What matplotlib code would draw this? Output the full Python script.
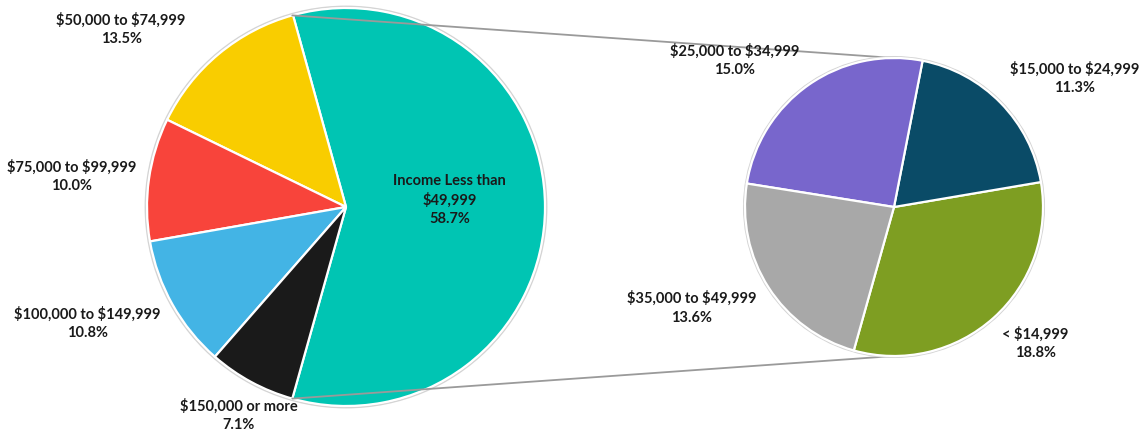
#!/usr/bin/env python3

import numpy as np
import matplotlib
matplotlib.use("Agg")
import matplotlib.pyplot as plt
from matplotlib.patches import ConnectionPatch, Circle

# main pie: teal slice is the group that gets broken out
main_labels = ["Income Less than\n$49,999", "$50,000 to $74,999", "$75,000 to $99,999",
               "$100,000 to $149,999", "$150,000 or more"]
main_values = [58.7, 13.5, 10.0, 10.8, 7.1]
main_colors = ["#00C5B3", "#F9CD00", "#F8443B", "#43B4E5", "#1A1A1A"]

# breakdown of the teal slice
sub_labels = ["< $14,999", "$15,000 to $24,999", "$25,000 to $34,999", "$35,000 to $49,999"]
sub_values = [18.8, 11.3, 15.0, 13.6]
sub_colors = ["#7E9E22", "#0A4B67", "#7866CC", "#A8A8A8"]

# label positions in pie-radius units
main_label_pos = [(0.52, 0.04), (-1.13, 0.90), (-1.38, 0.16), (-1.30, -0.58), (-0.54, -1.04)]
sub_label_pos = [(0.95, -0.91), (1.21, 0.87), (-1.07, 0.99), (-1.36, -0.67)]

W, H = 1139, 431
plt.rcParams["font.family"] = ["Lato", "DejaVu Sans"]
plt.rcParams["text.parse_math"] = False

fig = plt.figure(figsize=(W / 100, H / 100), dpi=100)


def make_axes(cx, cy, r):
    ax = fig.add_axes([0, 0, 1, 1])
    ax.patch.set_alpha(0)
    ax.axis("off")
    return ax


def set_view(ax, cx, cy, r):
    # 1 data unit = pie radius in pixels, centre placed at (cx, cy) from top-left
    ax.set_aspect("auto")
    ax.set_xlim(-cx / r, (W - cx) / r)
    ax.set_ylim(-(H - cy) / r, cy / r)


ax1 = make_axes(346, 208, 199)
ax2 = make_axes(894, 208, 149)

start = -main_values[0] / 100 * 360 / 2

for ax, vals, cols in [(ax1, main_values, main_colors), (ax2, sub_values, sub_colors)]:
    ax.add_patch(Circle((0, 0), 1.008, facecolor="none", edgecolor="#d4d4d4", lw=1.2, zorder=0.5))
    ax.pie(vals, colors=cols, startangle=start, counterclock=True,
           wedgeprops=dict(edgecolor="white", linewidth=1.6))

set_view(ax1, 346, 208, 199)
set_view(ax2, 894, 208, 149)

for lab, v, (x, y) in zip(main_labels, main_values, main_label_pos):
    ax1.text(x, y, f"{lab}\n{v:.1f}%", ha="center", va="center", fontsize=10.5,
             fontweight="bold", color="#1a1a1a", linespacing=1.4)
for lab, v, (x, y) in zip(sub_labels, sub_values, sub_label_pos):
    ax2.text(x, y, f"{lab}\n{v:.1f}%", ha="center", va="center", fontsize=10.5,
             fontweight="bold", color="#1a1a1a", linespacing=1.4)

# connector lines from the edges of the teal slice to the second pie
theta = np.deg2rad(main_values[0] / 100 * 360 / 2)
for sign in (1, -1):
    con = ConnectionPatch(xyA=(np.cos(theta), sign * np.sin(theta)), coordsA=ax1.transData,
                          xyB=(0, sign * 1.0), coordsB=ax2.transData,
                          color="#9a9a9a", lw=1.3, zorder=0.2)
    ax2.add_artist(con)

fig.savefig("out.png", dpi=100, facecolor="white")
